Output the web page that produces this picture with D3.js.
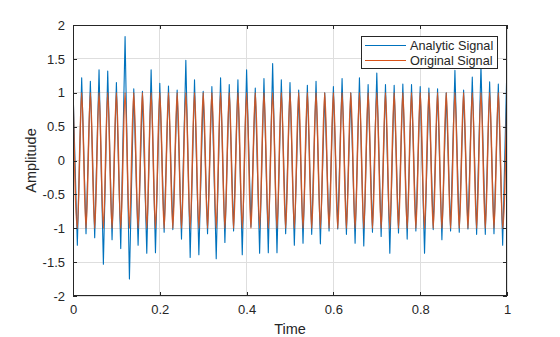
<!DOCTYPE html>
<html><head><meta charset="utf-8">
<script src="https://cdn.jsdelivr.net/npm/d3@7"></script>
<style>body{margin:0;background:#fff}svg{display:block}text{font-family:"Liberation Sans",Arial,sans-serif;fill:#262626}</style>
</head><body><svg id="c" width="560" height="337"></svg>
<script>
// sample spacing (s) between successive extrema of the 50 Hz signal
const sampleStep = 0.01;
// Original signal: extrema (peaks at +1, troughs at -1)
const originalSignal = [1,-1,1,-1,1,-1,1,-1,1,-1,1,-1,1,-1,1,-1,1,-1,1,-1,
1,-1,1,-1,1,-1,1,-1,1,-1,1,-1,1,-1,1,-1,1,-1,1,-1,
1,-1,1,-1,1,-1,1,-1,1,-1,1,-1,1,-1,1,-1,1,-1,1,-1,
1,-1,1,-1,1,-1,1,-1,1,-1,1,-1,1,-1,1,-1,1,-1,1,-1,
1,-1,1,-1,1,-1,1,-1,1,-1,1,-1,1,-1,1,-1,1,-1,1,-1,1];
const analyticSignal = [1.07,-1.25,1.22,-1.08,1.17,-1.14,1.34,-1.53,1.32,-1.17,
1.15,-1.30,1.83,-1.75,1.06,-1.25,1.02,-1.37,1.34,-1.36,
1.14,-1.06,1.10,-1.02,1.04,-1.16,1.48,-1.43,1.19,-1.39,
1.02,-1.08,1.09,-1.45,1.22,-1.21,1.12,-1.04,1.19,-1.39,
1.34,-0.98,1.07,-1.37,1.21,-1.36,1.43,-1.36,1.19,-1.08,
1.15,-1.25,1.04,-1.22,1.11,-1.09,1.17,-1.23,1.00,-1.04,
1.09,-1.01,1.21,-1.09,1.00,-1.22,1.22,-1.26,1.12,-1.06,
1.29,-1.12,1.12,-1.37,1.11,-1.07,1.13,-1.16,1.12,-1.04,
1.09,-1.37,1.07,-1.02,1.06,-1.17,1.00,-1.04,1.33,-1.06,
1.04,-1.01,1.23,-1.09,1.40,-1.09,1.16,-1.08,1.13,-1.25,1.45];
const xTicks = [0,0.2,0.4,0.6,0.8,1];
const xTickLabels = ["0","0.2","0.4","0.6","0.8","1"];
const yTicks = [-2,-1.5,-1,-0.5,0,0.5,1,1.5,2];
const yTickLabels = ["-2","-1.5","-1","-0.5","0","0.5","1","1.5","2"];
const seriesNames = ["Analytic Signal","Original Signal"];
const seriesColors = ["#0072BD","#D95319"];

const svg = d3.select("#c");
const L=73,R=507,T=25,B=296;
const x = d3.scaleLinear().domain([0,1]).range([L,R]);
const y = d3.scaleLinear().domain([-2,2]).range([B,T]);

// grid
const g = svg.append("g");
g.selectAll("line.gx").data(xTicks).enter().append("line")
 .attr("x1",d=>x(d)).attr("x2",d=>x(d)).attr("y1",T).attr("y2",B)
 .attr("stroke","#dedede").attr("stroke-width",1).attr("shape-rendering","crispEdges");
g.selectAll("line.gy").data(yTicks).enter().append("line")
 .attr("x1",L).attr("x2",R).attr("y1",d=>y(d)).attr("y2",d=>y(d))
 .attr("stroke","#dedede").attr("stroke-width",1).attr("shape-rendering","crispEdges");

svg.append("clipPath").attr("id","clp").append("rect").attr("x",L).attr("y",T).attr("width",R-L).attr("height",B-T);
const lineLin = d3.line().x((d,i)=>x(i*sampleStep)).y(d=>y(d));
const lineSmooth = d3.line().x((d,i)=>x(i*sampleStep)).y(d=>y(d)).curve(d3.curveMonotoneX);
const plot = svg.append("g").attr("clip-path","url(#clp)");
plot.append("path").datum(analyticSignal).attr("d",lineLin).attr("fill","none")
 .attr("stroke",seriesColors[0]).attr("stroke-width",1.1).attr("stroke-linejoin","round");
plot.append("path").datum(originalSignal).attr("d",lineSmooth).attr("fill","none")
 .attr("stroke",seriesColors[1]).attr("stroke-width",1.5).attr("stroke-opacity",0.9).attr("stroke-linejoin","round");

// axes box
svg.append("rect").attr("x",L+0.5).attr("y",T+0.5).attr("width",R-L-1).attr("height",B-T-1)
 .attr("fill","none").attr("stroke","#262626").attr("stroke-width",1).attr("shape-rendering","crispEdges");
const xAxis = d3.axisBottom(x).tickValues(xTicks).tickFormat((d,i)=>xTickLabels[i]).tickSizeInner(-4).tickSizeOuter(0).tickPadding(9);
const xa = svg.append("g").attr("transform",`translate(0,${B})`).call(xAxis);
const xAxisTop = d3.axisTop(x).tickValues(xTicks).tickFormat("").tickSizeInner(-4).tickSizeOuter(0);
const xt = svg.append("g").attr("transform",`translate(0,${T})`).call(xAxisTop);
const yAxis = d3.axisLeft(y).tickValues(yTicks).tickFormat((d,i)=>yTickLabels[i]).tickSizeInner(-4).tickSizeOuter(0).tickPadding(8);
const ya = svg.append("g").attr("transform",`translate(${L},0)`).call(yAxis);
const yAxisR = d3.axisRight(y).tickValues(yTicks).tickFormat("").tickSizeInner(-4).tickSizeOuter(0);
const yr = svg.append("g").attr("transform",`translate(${R},0)`).call(yAxisR);
[xa,xt,ya,yr].forEach(a=>{a.select(".domain").remove();
 a.selectAll(".tick line").attr("stroke","#262626").attr("shape-rendering","crispEdges");
 a.selectAll("text").attr("font-size","13px").attr("fill","#262626").attr("font-family","Liberation Sans, Arial, sans-serif");});

svg.append("text").attr("x",(L+R)/2).attr("y",334).attr("text-anchor","middle").attr("font-size","14.5px").text("Time");
svg.append("text").attr("transform",`translate(36,${(T+B)/2}) rotate(-90)`).attr("text-anchor","middle").attr("font-size","14.5px").text("Amplitude");

// legend
const lg = svg.append("g");
lg.append("rect").attr("x",361.5).attr("y",36.5).attr("width",136).attr("height",32)
 .attr("fill","#fff").attr("stroke","#262626").attr("stroke-width",1);
seriesNames.forEach((n,i)=>{
 const yy = 45.5 + i*15;
 lg.append("line").attr("x1",365).attr("x2",406).attr("y1",yy).attr("y2",yy).attr("stroke",seriesColors[i]).attr("stroke-width",1);
 lg.append("text").attr("x",410).attr("y",yy+4.5).attr("font-size","12.7px").text(n);
});
</script></body></html>
